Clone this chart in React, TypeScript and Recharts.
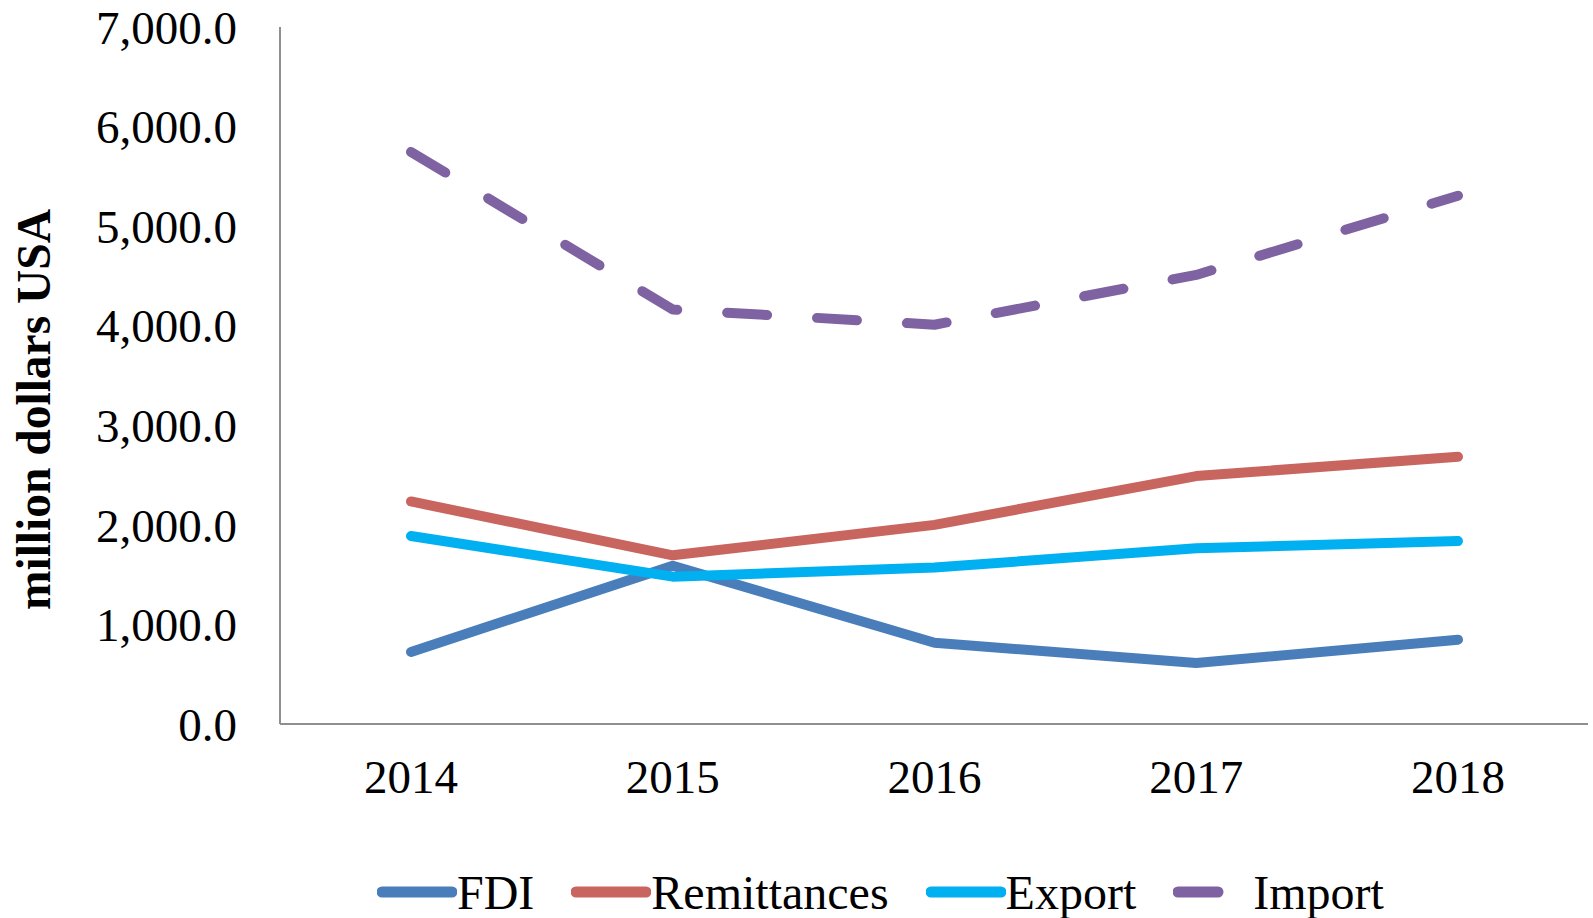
import React from 'react';
import { LineChart, Line, XAxis, YAxis, Legend } from 'recharts';

const years = ['2014', '2015', '2016', '2017', '2018'];
const fdi = [724, 1590, 816, 612, 847];
const remittances = [2235, 1694, 2000, 2490, 2684];
const exportVals = [1888, 1480, 1571, 1765, 1837];
const importVals = [5745, 4163, 4010, 4510, 5306];
const yTicks = [0, 1000, 2000, 3000, 4000, 5000, 6000, 7000];

const seriesMeta = [
  { key: 'FDI', color: '#4A7EBB', dash: undefined as string | undefined },
  { key: 'Remittances', color: '#C8655F', dash: undefined as string | undefined },
  { key: 'Export', color: '#00B0F0', dash: undefined as string | undefined },
  { key: 'Import', color: '#7E62A1', dash: '40 50' },
];

const data = years.map((y, i) => ({
  year: y,
  FDI: fdi[i],
  Remittances: remittances[i],
  Export: exportVals[i],
  Import: importVals[i],
}));

const FONT = '"Liberation Serif", "Times New Roman", serif';

const fmt = (v: number) =>
  v.toLocaleString('en-US', { minimumFractionDigits: 1, maximumFractionDigits: 1 });

const LegendContent = () => (
  <div
    style={{
      display: 'flex',
      alignItems: 'center',
      height: 60,
      paddingTop: 8,
      boxSizing: 'border-box',
      paddingLeft: 377,
      fontFamily: FONT,
      fontSize: 48,
      color: '#000',
      whiteSpace: 'nowrap',
    }}
  >
    {seriesMeta.map((s) => (
      <div key={s.key} style={{ display: 'flex', alignItems: 'center', marginRight: s.key === 'Import' ? 0 : 37 }}>
        <svg width={80} height={12} style={{ display: 'block' }}>
          <line
            x1={5}
            y1={6}
            x2={s.dash ? 45 : 75}
            y2={6}
            stroke={s.color}
            strokeWidth={11}
            strokeLinecap="round"
          />
        </svg>
        <span>{s.key}</span>
      </div>
    ))}
  </div>
);

export default function App() {
  return (
    <div style={{ position: 'absolute', left: 0, top: 0, width: 1593, height: 918, background: '#fff' }}>
      <LineChart
        width={1593}
        height={918}
        data={data}
        margin={{ top: 27, right: 5, left: 0, bottom: 0 }}
      >
        <XAxis
          dataKey="year"
          height={134}
          padding={{ left: 131, right: 130 }}
          tickLine={false}
          tickMargin={30}
          axisLine={{ stroke: '#8f8f8f', strokeWidth: 2 }}
          tick={{ fill: '#000', fontSize: 47, fontFamily: FONT }}
        />
        <YAxis
          width={280}
          domain={[0, 7000]}
          ticks={yTicks}
          tickFormatter={fmt}
          tickLine={false}
          tickMargin={37}
          axisLine={{ stroke: '#8f8f8f', strokeWidth: 2 }}
          tick={{ fill: '#000', fontSize: 47, fontFamily: FONT }}
          label={{
            value: 'million dollars USA',
            angle: -90,
            position: 'center',
            dx: -107,
            dy: 34,
            style: { fontFamily: FONT, fontSize: 47.5, fontWeight: 'bold', fill: '#000' },
          }}
        />
        <Legend verticalAlign="bottom" height={60} content={<LegendContent />} />
        {seriesMeta.map((s) => (
          <Line
            key={s.key}
            type="linear"
            dataKey={s.key}
            stroke={s.color}
            strokeWidth={10}
            strokeLinecap="round"
            strokeLinejoin="round"
            strokeDasharray={s.dash}
            dot={false}
            activeDot={false}
            isAnimationActive={false}
          />
        ))}
      </LineChart>
    </div>
  );
}
